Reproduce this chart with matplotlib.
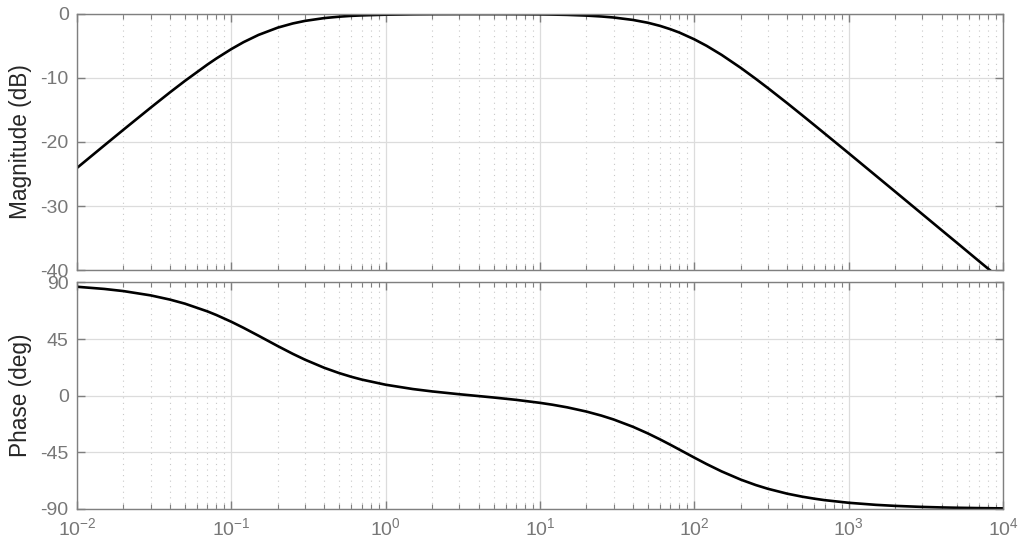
import numpy as np
import matplotlib
matplotlib.use("Agg")
import matplotlib.pyplot as plt
from matplotlib.ticker import LogLocator, NullFormatter, FixedLocator

freq = [0.01, 0.015, 0.02, 0.03, 0.04, 0.05, 0.07, 0.08,
        0.1, 0.12, 0.15, 0.2, 0.25, 0.3, 0.4, 0.5, 0.6, 0.7,
        1, 1.5, 2, 3, 4, 5, 7,
        10, 12, 15, 20, 25, 30, 40, 50, 60, 70, 80,
        100, 120, 150, 200, 250, 300, 400, 500, 600, 700,
        1000, 1500, 2000, 3000, 4000, 5000, 7000, 10000]

mag_db = [-24.05, -20.55, -18.08, -14.64, -12.25, -10.46, -7.90, -6.95,
          -5.48, -4.40, -3.27, -2.13, -1.48, -1.08, -0.64, -0.42, -0.29, -0.22,
          -0.11, -0.05, -0.03, -0.02, -0.02, -0.02, -0.03,
          -0.06, -0.09, -0.14, -0.25, -0.39, -0.55, -0.93, -1.37, -1.86, -2.38, -2.90,
          -3.96, -4.97, -6.38, -8.42, -10.13, -11.58, -13.94, -15.82, -17.37, -18.69,
          -21.75, -25.26, -27.75, -31.27, -33.77, -35.70, -38.63, -41.72]

phase_deg = [86.52, 84.80, 83.08, 79.68, 76.34, 73.11, 66.96, 64.08,
             58.71, 53.89, 47.63, 39.39, 33.25, 28.61, 22.15, 17.93, 14.98, 12.79,
             8.70, 5.28, 3.39, 1.15, -0.30, -1.44, -3.30,
             -5.69, -7.15, -9.26, -12.62, -15.83, -18.91, -24.70, -29.98, -34.74, -39.00, -42.81,
             -49.21, -54.30, -60.11, -66.68, -70.98, -73.97, -77.85, -80.22, -81.82, -82.99,
             -85.06, -86.71, -87.53, -88.36, -88.77, -89.01, -89.30, -89.51]

mag_ticks = [-40, -30, -20, -10, 0]
phase_ticks = [-90, -45, 0, 45, 90]

plt.rcParams["font.family"] = ["Liberation Sans", "DejaVu Sans"]
plt.rcParams["mathtext.default"] = "regular"
plt.rcParams["axes.unicode_minus"] = False

AX_COL = "#7f7f7f"
TXT_COL = "#777777"

fig = plt.figure(figsize=(10.24, 5.55), dpi=100)
ax_mag = fig.add_axes([0.0752, 0.5135, 0.9043, 0.4613])
ax_ph = fig.add_axes([0.0752, 0.0829, 0.9043, 0.4083])


def style(ax):
    ax.set_xscale("log")
    ax.set_xlim(1e-2, 1e4)
    ax.xaxis.set_major_locator(LogLocator(base=10, numticks=10))
    ax.xaxis.set_minor_locator(LogLocator(base=10, subs=np.arange(2, 10), numticks=20))
    ax.xaxis.set_minor_formatter(NullFormatter())
    ax.set_axisbelow(True)
    ax.grid(which="major", color="#dcdcdc", linewidth=0.9)
    ax.grid(which="minor", axis="x", color="#c8c8c8", linewidth=0.8, linestyle=(0, (1, 4)))
    for s in ax.spines.values():
        s.set_color(AX_COL)
        s.set_linewidth(1.0)
    ax.tick_params(which="both", direction="in", top=True, right=True,
                   colors=AX_COL, labelcolor=TXT_COL, labelsize=14, pad=6)
    ax.tick_params(which="major", length=6, width=1.0)
    ax.tick_params(which="minor", length=3.5, width=0.8)
    ax.tick_params(axis="y", which="minor", left=False, right=False)


style(ax_mag)
style(ax_ph)

ax_mag.plot(freq, mag_db, color="black", linewidth=1.9)
ax_mag.set_ylim(-40, 0)
ax_mag.yaxis.set_major_locator(FixedLocator(mag_ticks))
ax_mag.tick_params(axis="x", labelbottom=False)
ax_mag.set_ylabel("Magnitude (dB)", fontsize=16.3, color="#262626")
ax_mag.yaxis.set_label_coords(-0.049, 0.5)

ax_ph.plot(freq, phase_deg, color="black", linewidth=1.9)
ax_ph.set_ylim(-90, 90)
ax_ph.yaxis.set_major_locator(FixedLocator(phase_ticks))
ax_ph.set_ylabel("Phase (deg)", fontsize=16.3, color="#262626")
ax_ph.yaxis.set_label_coords(-0.049, 0.5)

fig.savefig("out.png", dpi=100)
